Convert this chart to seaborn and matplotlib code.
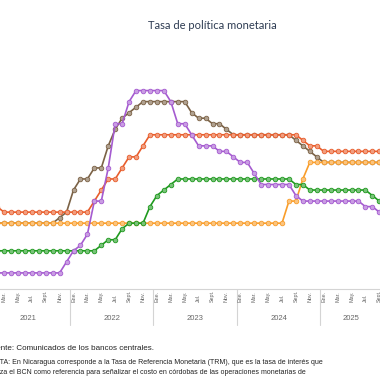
import pandas as pd
import seaborn as sns
import matplotlib.pyplot as plt
from matplotlib import transforms
from matplotlib import colors as mcolors

# Meses y años (Ene. 2021 - Sept. 2025)
meses = ['Ene.', 'Feb.', 'Mar.', 'Abr.', 'May.', 'Jun.', 'Jul.', 'Ago.', 'Sept.', 'Oct.', 'Nov.', 'Dic.']
anios = [2021, 2022, 2023, 2024, 2025]
n_meses = 57

costa_rica = ([0.75] * 11 + [1.25, 1.75, 2.0, 2.5, 4.0, 4.0, 5.5, 7.5, 7.5, 8.5] + [9.0] * 5
              + [8.5, 7.5, 7.5, 7.0, 6.5, 6.5, 6.5, 6.25, 6.25, 6.0, 5.75, 5.75, 5.25] + [4.75] * 5
              + [4.25] + [4.0] * 9 + [3.75, 3.75, 3.5])
rep_dominicana = ([3.0] * 10 + [3.25, 3.5, 4.5, 5.0, 5.0, 5.5, 5.5, 6.5, 7.25, 7.75, 8.0, 8.25] + [8.5] * 7
                  + [8.0, 7.75, 7.75, 7.5, 7.5, 7.25] + [7.0] * 9 + [6.75, 6.5, 6.25, 6.0] + [5.75] * 9)
nicaragua = ([3.75, 3.75] + [3.5] * 13 + [4.0, 4.5, 5.0, 5.0, 5.5, 6.0, 6.0, 6.5] + [7.0] * 22
             + [6.75, 6.5, 6.5] + [6.25] * 9)
honduras = [3.0] * 43 + [4.0, 4.0, 5.0] + [5.75] * 11
guatemala = ([1.75] * 16 + [2.0, 2.25, 2.25, 2.75, 3.0, 3.0, 3.0, 3.75, 4.25, 4.5, 4.75] + [5.0] * 17
             + [4.75, 4.75] + [4.5] * 9 + [4.25, 4.0])

series = {
    'República Dominicana': rep_dominicana,
    'Honduras': honduras,
    'Nicaragua': nicaragua,
    'Guatemala': guatemala,
    'Costa Rica': costa_rica,
}
colores = {
    'República Dominicana': '#7b6246',
    'Honduras': '#f99d2a',
    'Nicaragua': '#e85d2c',
    'Guatemala': '#1f9a1f',
    'Costa Rica': '#a55bd0',
}

t = list(range(n_meses))
filas = []
for pais, valores in series.items():
    for i, v in zip(t, valores):
        filas.append({'t': i, 'tasa': v, 'pais': pais})
df = pd.DataFrame(filas)

sns.set_theme(style='white')
plt.rcParams['font.family'] = ['Liberation Sans', 'DejaVu Sans']

fig = plt.figure(figsize=(3.8, 3.8), dpi=100)
ax = fig.add_axes([0, 0.2382, 1, 0.5816])

sns.lineplot(data=df, x='t', y='tasa', hue='pais', hue_order=list(series.keys()),
             palette=colores, marker='o', markersize=3.3, linewidth=1.2,
             legend=False, sort=False, ax=ax)

for line in ax.lines:
    c = mcolors.to_rgb(line.get_color())
    claro = tuple(0.6 * x + 0.4 for x in c)
    line.set_markeredgecolor(c)
    line.set_markerfacecolor(claro)
    line.set_markeredgewidth(0.6)

ax.set_xlim(1.424, 56.1)
ax.set_ylim(0, 10)
ax.set_xlabel('')
ax.set_ylabel('')
ax.set_yticks([])
ax.set_xticks([])
for s in ['left', 'right', 'top']:
    ax.spines[s].set_visible(False)
ax.spines['bottom'].set_color('#d4d4d4')
ax.spines['bottom'].set_linewidth(0.8)

trans = transforms.blended_transform_factory(ax.transData, ax.transAxes)
for i in t:
    mes = i % 12
    if mes % 2 == 0:
        ax.text(i, -0.058, meses[mes], rotation=90, ha='center', va='bottom',
                fontsize=3.9, color='#666666', transform=trans, clip_on=False)
    if mes == 11 and i < n_meses - 1:
        ax.plot([i + 0.5, i + 0.5], [0, -0.16], color='#d4d4d4', linewidth=0.8,
                transform=trans, clip_on=False)

for k, anio in enumerate(anios):
    ini = k * 12
    fin = min(ini + 11, n_meses - 1)
    ax.text((ini + fin) / 2, -0.13, str(anio), ha='center', va='center',
            fontsize=5.5, color='#666666', transform=trans, clip_on=False)

fig.text(0.559, 0.934, 'Tasa de política monetaria', ha='center', va='center',
         fontsize=8, color='#2d3b52', family=['Lato', 'DejaVu Sans'])
fig.text(-0.034, 0.0816, 'Fuente: Comunicados de los bancos centrales.', ha='left', va='center',
         fontsize=5.8, color='#222222')
fig.text(-0.03, 0.047, 'NOTA: En Nicaragua corresponde a la Tasa de Referencia Monetaria (TRM), '
         'que es la tasa de interés que', ha='left', va='center', fontsize=5.05, color='#222222')
fig.text(-0.03, 0.021, 'utiliza el BCN como referencia para señalizar el costo en córdobas de '
         'las operaciones monetarias de', ha='left', va='center', fontsize=5.05, color='#222222')

fig.savefig('out.png', dpi=100)
